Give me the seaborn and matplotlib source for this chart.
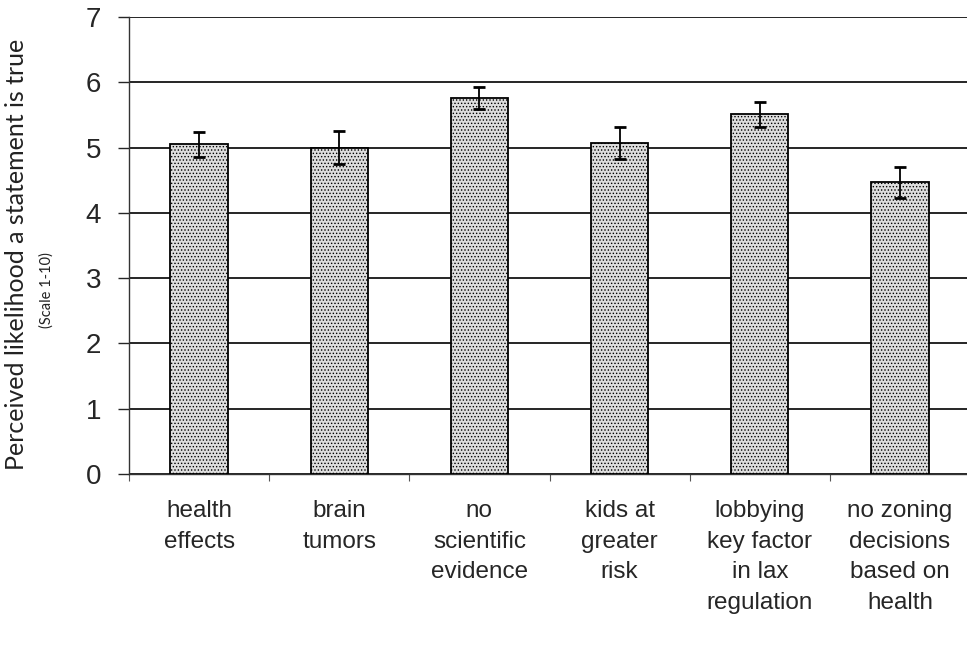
import numpy as np
import pandas as pd
import matplotlib
matplotlib.use('Agg')
import matplotlib.pyplot as plt
import seaborn as sns

# Data
statements = ['health\neffects', 'brain\ntumors', 'no\nscientific\nevidence',
              'kids at\ngreater\nrisk', 'lobbying\nkey factor\nin lax\nregulation',
              'no zoning\ndecisions\nbased on\nhealth']
means = [5.05, 5.00, 5.76, 5.07, 5.51, 4.47]
errors = [0.19, 0.25, 0.17, 0.25, 0.19, 0.24]
yticks = [0, 1, 2, 3, 4, 5, 6, 7]

df = pd.DataFrame({'statement': statements, 'mean': means})

sns.set_style('white')
plt.rcParams['font.family'] = ['Liberation Sans', 'DejaVu Sans']
plt.rcParams['hatch.color'] = '#9a9a9a'
plt.rcParams['hatch.linewidth'] = 0.6

fig = plt.figure(figsize=(9.67, 6.47), dpi=100)
ax = fig.add_axes([129 / 967, 1 - 474 / 647, 841 / 967, (474 - 17) / 647])

sns.barplot(data=df, x='statement', y='mean', color='#dedede', width=0.41,
            edgecolor='black', linewidth=1.3, errorbar=None, ax=ax, zorder=3)
for p in ax.patches:
    p.set_hatch('.....')

ax.errorbar(np.arange(len(means)), means, yerr=errors, fmt='none', ecolor='black',
            elinewidth=1.3, capsize=4, capthick=2, zorder=4)

ax.set_ylim(0, 7)
ax.set_xlim(-0.5, len(means) - 0.5)
ax.set_yticks(yticks)
ax.set_yticklabels([str(t) for t in yticks], fontsize=20)
ax.yaxis.grid(True, color='black', linewidth=1.2)
ax.set_axisbelow(True)

# category boundary ticks on the x axis
ax.set_xticks(np.arange(len(means) + 1) - 0.5, minor=True)
ax.tick_params(axis='x', which='minor', length=5, width=0.8, color='#555555', direction='out', bottom=True)
ax.tick_params(axis='x', which='major', length=0, pad=19, labelsize=17.5)
ax.tick_params(axis='y', length=8, width=1, direction='out', left=True, pad=12)

for s in ['top', 'right']:
    ax.spines[s].set_visible(False)
for s in ['left', 'bottom']:
    ax.spines[s].set_color('#333333')
    ax.spines[s].set_linewidth(1.0)

ax.set_xlabel('')
ax.set_ylabel('')
for lbl in ax.get_xticklabels():
    lbl.set_horizontalalignment('center')
    lbl.set_linespacing(1.5)

fig.text(17 / 967, 1 - 254 / 647, 'Perceived likelihood a statement is true', rotation=90,
         ha='center', va='center', family=['Lato', 'DejaVu Sans'], fontsize=18, color='#222222')
fig.text(47 / 967, 1 - 290 / 647, '(Scale 1-10)', rotation=90,
         ha='center', va='center', family=['Lato', 'DejaVu Sans'], fontsize=10.5, color='#222222')

fig.savefig('out.png', dpi=100)
